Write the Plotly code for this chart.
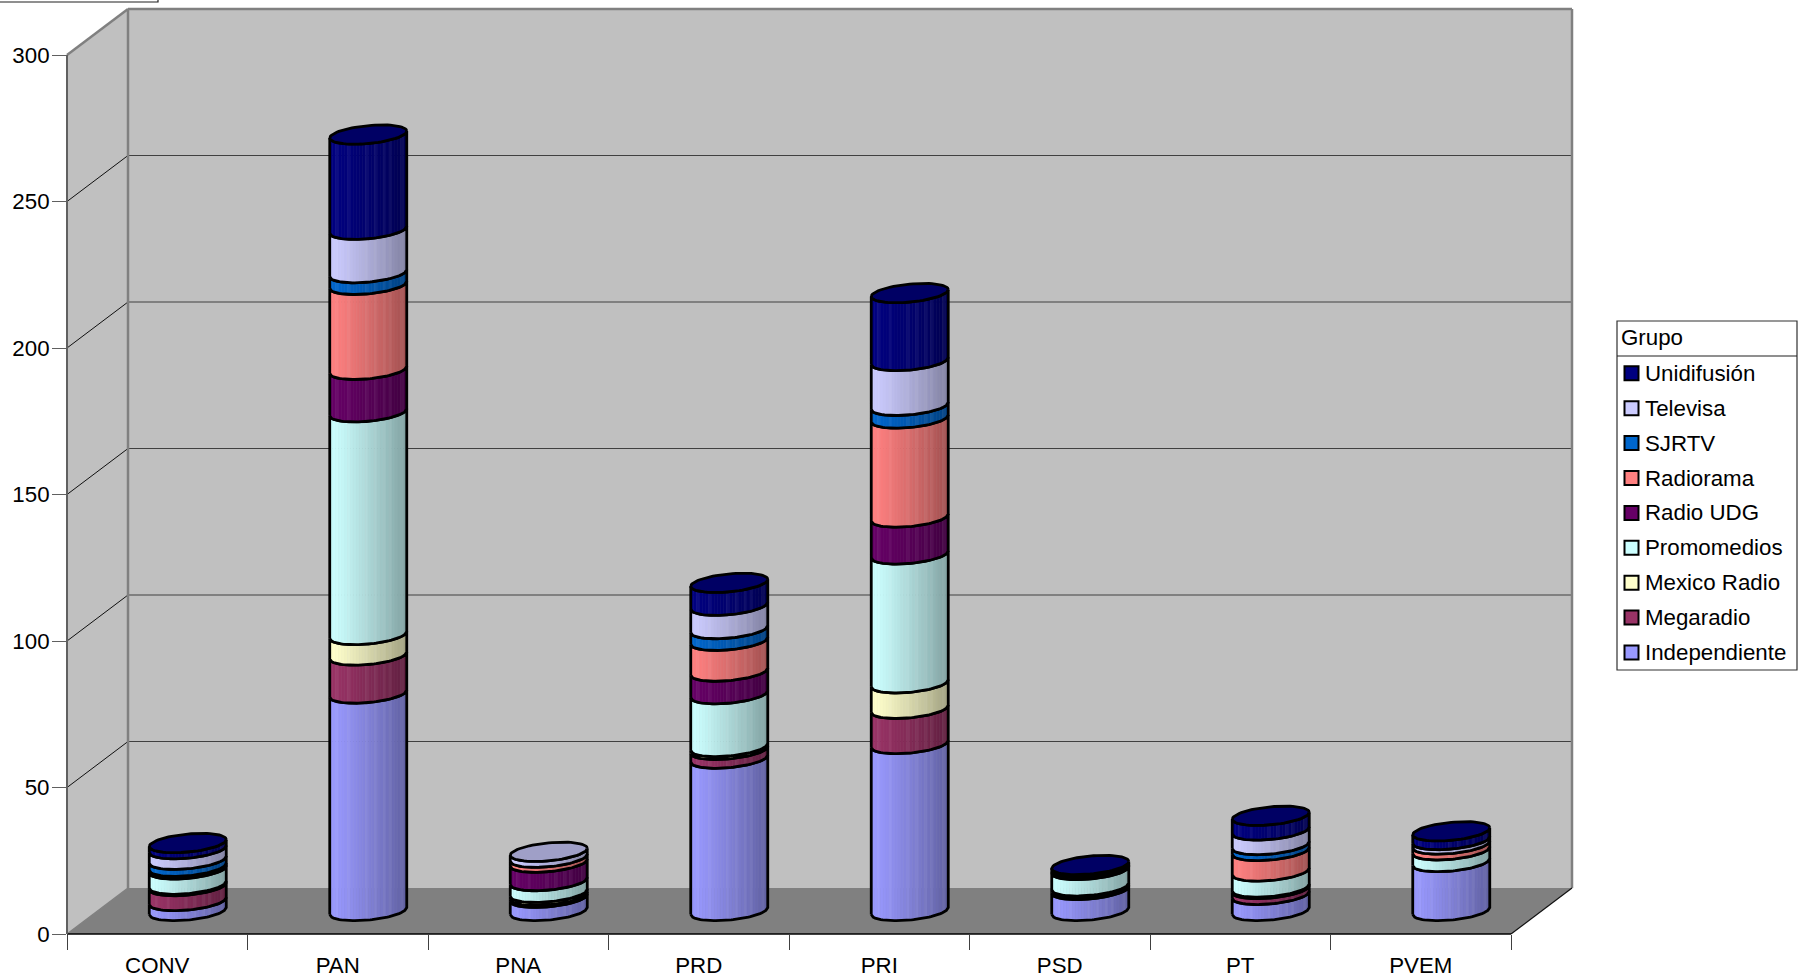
import numpy as np
import plotly.graph_objects as go

# ---------- data ----------
categories = ["CONV", "PAN", "PNA", "PRD", "PRI", "PSD", "PT", "PVEM"]
series_names = ["Independiente", "Megaradio", "Mexico Radio", "Promomedios", "Radio UDG",
                "Radiorama", "SJRTV", "Televisa", "Unidifusión"]
independiente = [3.4, 74.2, 4.5, 52, 57, 7.2, 5.5, 16.7]
megaradio     = [5.1, 13, 0.7, 3, 12, 0.4, 2, 0]
mexico_radio  = [0.5, 7, 1, 1, 8.7, 0.8, 0.5, 0]
promomedios   = [5.2, 76, 4, 18, 44, 5.6, 5.5, 4]
radio_udg     = [0.4, 14.5, 6.3, 7.7, 12.6, 0.2, 0, 0]
radiorama     = [0.5, 29, 1.7, 10.5, 33.8, 0.2, 7, 2]
sjrtv         = [2.4, 4, 0, 4, 4.3, 0.2, 2, 0]
televisa      = [3.6, 14.8, 2, 8, 15.3, 0.4, 5, 1.5]
unidifusion   = [2.1, 32.5, 0, 7.8, 23.2, 0.7, 5, 3]
y_ticks = [0, 50, 100, 150, 200, 250, 300]
all_series = [independiente, megaradio, mexico_radio, promomedios, radio_udg,
              radiorama, sjrtv, televisa, unidifusion]
colors = ["#9999FF", "#993366", "#FFFFCC", "#CCFFFF", "#660066",
          "#FF8080", "#0066CC", "#CCCCFF", "#000080"]

# ---------- layout geometry (pixels of the 1809x980 page) ----------
W, H = 1809, 980
X0, X1, Y0, Y300 = 67, 1511, 934, 55
DX, DY = 61, 46
UX = (X1 - X0) / len(categories)
UY = (Y0 - Y300) / 300.0
FONT = "Liberation Sans, Arial, sans-serif"
FS = 22.3
def px(x): return x / W
def py(y): return 1 - y / H
def yv(v): return Y0 - v * UY

# cylinder geometry in axis units
SHIFT = DX / 2 / UX
A = 38.5 / UX
BASE = DY / 2 / UY
B = 9.0 / UY
S = 3.5 / UY
NSTRIP = 26
STRIPE = [0, 0, 1, 0, 0, 0, 1, 0, 0, 0, 0, 0, 1, 0, 0, 1, 0, 0, 1, 0, 1, 0, 0, 0, 1, 0]

def shade(hexc, i):
    r, g, b = int(hexc[1:3], 16), int(hexc[3:5], 16), int(hexc[5:7], 16)
    f = 1 - 0.36 * (i / (NSTRIP - 1)) ** 1.2
    r, g, b = r * f, g * f, b * f
    if STRIPE[i]:
        r, g, b = r + (255 - r) * .05, g + (255 - g) * .05, b + (255 - b) * .05
    return f"rgb({r:.0f},{g:.0f},{b:.0f})"

def front(cx, v, u):
    """front edge of the ring at stacked value v, u in [-1, 1] across the bar"""
    return cx + A * u, BASE + v + S * u - B * np.sqrt(np.clip(1 - u * u, 0, 1))

fig = go.Figure()
cum = np.zeros(len(categories))
totals = np.sum(all_series, axis=0)

for name, vals, col in zip(series_names, all_series, colors):
    vals = np.array(vals, float)
    top = cum + vals
    # shaded strips forming the curved side
    for i in range(NSTRIP):
        xs, ys = [], []
        for c in range(len(categories)):
            if vals[c] <= 0:
                continue
            cx = c + 0.5 + SHIFT
            us = np.linspace(-1 + 2 * i / NSTRIP, -1 + 2 * (i + 1) / NSTRIP, 4)
            xb, yb = front(cx, cum[c], us)
            xt, yt = front(cx, top[c], us[::-1])
            xs += list(xb) + list(xt) + [xb[0], None]
            ys += list(yb) + list(yt) + [yb[0], None]
        fig.add_trace(go.Scatter(x=xs, y=ys, mode="lines", fill="toself", fillcolor=shade(col, i),
                                 line=dict(color=shade(col, i), width=0.6), hoverinfo="skip",
                                 showlegend=False, name=name))
    # outline of each segment
    xs, ys = [], []
    for c in range(len(categories)):
        if vals[c] <= 0:
            continue
        cx = c + 0.5 + SHIFT
        us = np.linspace(-1, 1, 41)
        xb, yb = front(cx, cum[c], us)
        xt, yt = front(cx, top[c], us[::-1])
        xs += list(xb) + list(xt) + [xb[0], None]
        ys += list(yb) + list(yt) + [yb[0], None]
    fig.add_trace(go.Scatter(x=xs, y=ys, mode="lines", line=dict(color="black", width=2.8),
                             hoverinfo="skip", showlegend=False, name=name))
    # top cap, only where this series ends the stack
    xs, ys = [], []
    for c in range(len(categories)):
        if vals[c] > 0 and abs(top[c] - totals[c]) < 1e-6:
            cx = c + 0.5 + SHIFT
            t = np.linspace(0, 2 * np.pi, 73)
            xs += list(cx + A * np.cos(t)) + [None]
            ys += list(BASE + top[c] + S * np.cos(t) + B * np.sin(t)) + [None]
    if xs:
        r, g, b = int(col[1:3], 16), int(col[3:5], 16), int(col[5:7], 16)
        fig.add_trace(go.Scatter(x=xs, y=ys, mode="lines", fill="toself",
                                 fillcolor=f"rgb({r*.78:.0f},{g*.78:.0f},{b*.78:.0f})",
                                 line=dict(color="black", width=2.8), hoverinfo="skip",
                                 showlegend=False, name=name))
    cum = top

# ---------- walls, floor and grid ----------
def poly(pts, fill, line=None, width=0, layer="below"):
    path = "M " + " L ".join(f"{px(x):.5f},{py(y):.5f}" for x, y in pts) + " Z"
    fig.add_shape(type="path", path=path, xref="paper", yref="paper", fillcolor=fill, layer=layer,
                  line=dict(color=line or fill, width=width))

def seg(x1, y1, x2, y2, color, width, layer="below"):
    fig.add_shape(type="line", x0=px(x1), y0=py(y1), x1=px(x2), y1=py(y2), xref="paper", yref="paper",
                  line=dict(color=color, width=width), layer=layer)

BL, BR, BT, BB = X0 + DX, X1 + DX, Y300 - DY, Y0 - DY
poly([(BL, BT), (BR, BT), (BR, BB), (BL, BB)], "#C0C0C0")
poly([(X0, Y300), (BL, BT), (BL, BB), (X0, Y0)], "#C0C0C0")
poly([(X0, Y0), (BL, BB), (BR, BB), (X1, Y0)], "#808080")
for v in y_ticks[1:-1]:
    seg(BL, yv(v) - DY, BR, yv(v) - DY, "#404040", 1.2)
    seg(X0, yv(v), BL, yv(v) - DY, "#101010", 1)
seg(BL, BT, BR, BT, "#808080", 2.5)
seg(BL, BT, BL, BB, "#808080", 2.5)
seg(BR, BT, BR, BB, "#808080", 2.5)
seg(X0, Y300, BL, BT, "#808080", 2.5)
seg(X0, Y0, BL, BB, "#808080", 1.5)
seg(X1, Y0, BR, BB, "#101010", 1.2)
seg(X0, Y0, X1, Y0, "#000000", 1.6)
seg(X0, Y300, X0, Y0, "#606060", 2)

# clipped box in the top-left corner
fig.add_shape(type="rect", x0=-0.01, x1=px(158), y0=py(2), y1=1.02, xref="paper", yref="paper",
              fillcolor="white", line=dict(color="#202020", width=1.2))

# ---------- legend box ----------
LL, LR, LT, LM, LB = 1617, 1797, 321, 356, 670
fig.add_shape(type="rect", x0=px(LL), x1=px(LR), y0=py(LB), y1=py(LT), xref="paper", yref="paper",
              fillcolor="white", line=dict(color="#303030", width=1.2))
seg(LL, LM, LR, LM, "#202020", 1.2, layer="above")
fig.add_annotation(x=px(1618.5), y=py(337), xref="paper", yref="paper", text="Grupo", showarrow=False,
                   xanchor="left", yanchor="middle", font=dict(family=FONT, size=FS, color="black"))
for k, (name, col) in enumerate(zip(series_names[::-1], colors[::-1])):
    yc = 373.3 + k * 34.9
    fig.add_shape(type="rect", x0=px(1624.5), x1=px(1638.5), y0=py(yc + 7), y1=py(yc - 7), xref="paper",
                  yref="paper", fillcolor=col, line=dict(color="black", width=2))
    fig.add_annotation(x=px(1642.5), y=py(yc), xref="paper", yref="paper", text=name, showarrow=False,
                       xanchor="left", yanchor="middle", font=dict(family=FONT, size=FS, color="black"))

fig.update_layout(
    width=W, height=H, autosize=False, margin=dict(l=0, r=0, t=0, b=0, pad=0),
    paper_bgcolor="white", plot_bgcolor="rgba(0,0,0,0)", showlegend=False,
    xaxis=dict(domain=[px(X0), px(X1)], range=[0, len(categories)], anchor="y", automargin=False,
               tickmode="array", tickvals=[i + 0.5 for i in range(len(categories))], ticktext=categories,
               ticks="", showgrid=False, zeroline=False, showline=False, ticklabelstandoff=16,
               tickfont=dict(family=FONT, size=FS, color="black"),
               minor=dict(tickmode="array", tickvals=list(range(len(categories) + 1)), ticks="outside",
                          ticklen=15, tickwidth=1.4, tickcolor="#404040", showgrid=False)),
    yaxis=dict(domain=[py(Y0), py(Y300)], range=[0, 300], anchor="x", tickmode="array", tickvals=y_ticks,
               automargin=False, ticks="outside", ticklen=14, tickwidth=1.4, tickcolor="#606060", showgrid=False,
               ticklabelstandoff=-2, zeroline=False, showline=False,
               tickfont=dict(family=FONT, size=FS, color="black")),
)

fig.write_html("out.html", config={"displayModeBar": False},
               post_script="document.body.style.margin='0';document.body.style.overflow='hidden';")
